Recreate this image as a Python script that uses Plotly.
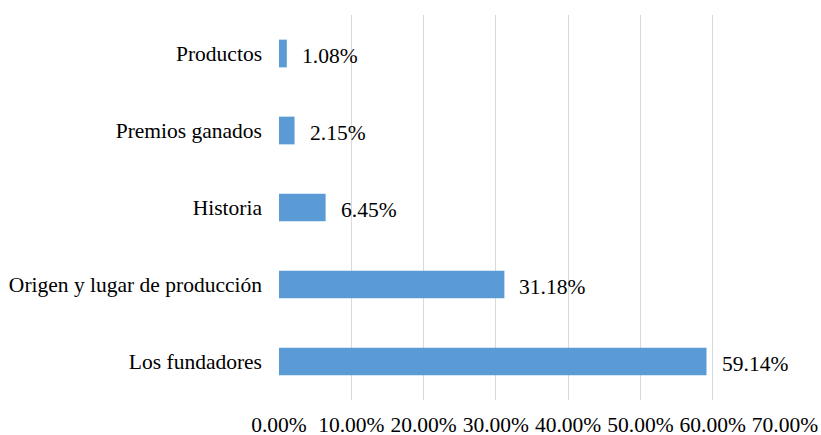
import plotly.graph_objects as go

categories = ["Los fundadores", "Origen y lugar de producción", "Historia", "Premios ganados", "Productos"]
values = [59.14, 31.18, 6.45, 2.15, 1.08]
tick_vals = [0, 10, 20, 30, 40, 50, 60, 70]
tick_text = [f"{v:.2f}%" for v in tick_vals]

font_family = "Liberation Serif"
font_size = 21.5
bar_color = "#5B9BD5"

fig = go.Figure()
fig.add_trace(go.Bar(
    x=values,
    y=categories,
    orientation="h",
    marker=dict(color=bar_color, line=dict(width=0)),
    width=0.36,
    hoverinfo="skip",
))

# value labels just right of each bar
for cat, val in zip(categories, values):
    fig.add_annotation(
        x=val, y=cat, text=f"{val:.2f}%",
        showarrow=False, xanchor="left", xshift=13, yshift=-2,
        font=dict(family=font_family, size=font_size, color="#000000"),
    )

fig.update_layout(
    width=821, height=435,
    margin=dict(l=279, r=36, t=15, b=35, autoexpand=False),
    paper_bgcolor="white", plot_bgcolor="white",
    showlegend=False,
    font=dict(family=font_family, size=font_size, color="#000000"),
)
fig.update_xaxes(
    range=[0, 70], tickvals=tick_vals, ticktext=tick_text,
    showgrid=True, gridcolor="#D9D9D9", gridwidth=1,
    zeroline=False, showline=False, ticks="", ticklabelstandoff=9,
    automargin=False,
    tickfont=dict(family=font_family, size=font_size, color="#000000"),
)
fig.update_yaxes(
    categoryorder="array", categoryarray=categories,
    showgrid=False, zeroline=False, showline=False,
    ticks="", ticklabelstandoff=16, automargin=False,
    tickfont=dict(family=font_family, size=font_size, color="#000000"),
)

fig.write_html("out.html")
